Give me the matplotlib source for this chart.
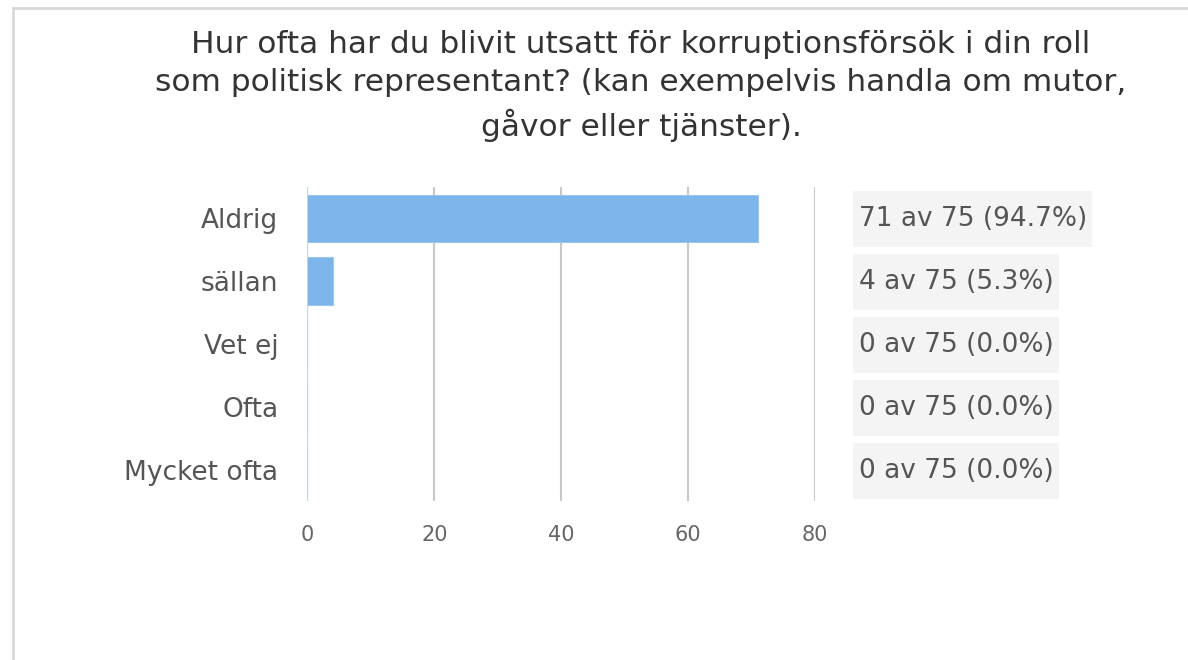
import matplotlib.pyplot as plt
from matplotlib.patches import Rectangle
from matplotlib.lines import Line2D

# Data
categories = ["Aldrig", "sällan", "Vet ej", "Ofta", "Mycket ofta"]
counts = [71, 4, 0, 0, 0]
total = 75
xticks = [0, 20, 40, 60, 80]
title = ("Hur ofta har du blivit utsatt för korruptionsförsök i din roll\n"
         "som politisk representant? (kan exempelvis handla om mutor,\n"
         "gåvor eller tjänster).")

W, H = 1188, 660
fig = plt.figure(figsize=(W / 100, H / 100), dpi=100)
plt.rcParams['font.family'] = ['DejaVu Sans']

def fx(px):
    return px / W

def fy(py):
    return 1 - py / H

# screenshot frame lines (top and left)
fig.add_artist(Line2D([fx(13), 1], [fy(8), fy(8)], color='#d9d9d9', lw=2))
fig.add_artist(Line2D([fx(13), fx(13)], [fy(8), 0], color='#d9d9d9', lw=2))

# title
fig.text(fx(641), fy(86), title, ha='center', va='center', fontsize=22.5,
         color='#333333', linespacing=1.4)

# main bar axes
x0, x1 = 307.5, 814.6
y0, y1 = 187, 501
ax = fig.add_axes([fx(x0), fy(y1), fx(x1 - x0), (y1 - y0) / H])
ypos = list(range(len(categories)))
ax.barh(ypos, counts, height=0.76, color='#7db4ea', edgecolor='#9cc6f0', linewidth=0.8, zorder=3)
ax.set_xlim(0, 80)
ax.set_ylim(len(categories) - 0.5, -0.5)
ax.set_xticks(xticks)
ax.set_yticks(ypos)
ax.set_yticklabels(categories)
for s in ax.spines.values():
    s.set_visible(False)
ax.grid(axis='x', color='#c8c8c8', linewidth=1.5, zorder=0)
ax.axvline(0, color='#c5d5e8', lw=1.5, zorder=4)
ax.tick_params(axis='x', length=0, pad=17, labelsize=15, labelcolor='#666666')
ax.tick_params(axis='y', length=0, pad=21, labelsize=19, labelcolor='#555555')

# right-side value labels with grey boxes
fig.canvas.draw()
renderer = fig.canvas.get_renderer()
for i, c in enumerate(counts):
    pct = 100.0 * c / total
    label = f"{c} av {total} ({pct:.1f}%)"
    yc = y0 + (i + 0.5) * (y1 - y0) / len(categories) + 1
    t = fig.text(fx(859), fy(yc), label, ha='left', va='center', fontsize=19,
                 color='#555555', zorder=3)
    ext = t.get_window_extent(renderer)
    bx0 = 853
    bx1 = ext.x1 + 5
    fig.add_artist(Rectangle((fx(bx0), fy(yc + 28)), fx(bx1 - bx0), 56 / H,
                             transform=fig.transFigure, facecolor='#f4f4f4',
                             edgecolor='none', zorder=1))

fig.savefig("out.png", dpi=100)
